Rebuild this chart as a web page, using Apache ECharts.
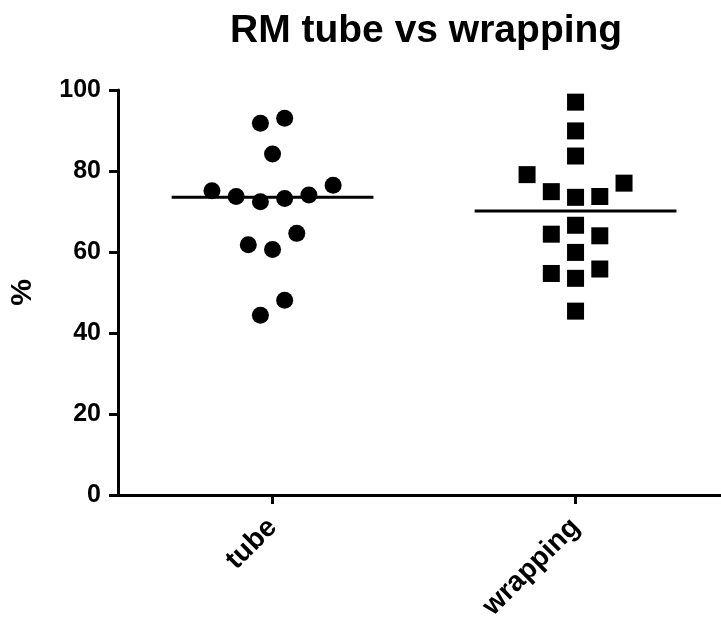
<!DOCTYPE html>
<html>
  <head>
    <meta charset="utf-8" />
    <title>RM tube vs wrapping</title>
    <script src="https://cdn.jsdelivr.net/npm/echarts@6/dist/echarts.min.js"></script>
    <style>
      html, body { margin: 0; padding: 0; background: #fff; }
    </style>
  </head>
  <body>
    <div id="main" style="width: 721px;height: 620px;"></div>
    <script type="text/javascript">
      // groups on the x axis (tube = 1, wrapping = 2)
      var categories = ['tube', 'wrapping']
      var yTicks = [0, 20, 40, 60, 80, 100]

      // tube values (%) and their horizontal scatter around x = 1
      var tubeValues = [91.8, 93.0, 84.2, 75.1, 73.7, 72.4, 73.2, 74.1, 76.5, 64.6, 61.8, 60.6, 48.1, 44.4]
      var tubeJitter = [-0.04, 0.04, 0, -0.2, -0.12, -0.04, 0.04, 0.12, 0.2, 0.08, -0.08, 0, 0.04, -0.04]

      // wrapping values (%) and their horizontal scatter around x = 2
      var wrappingValues = [97.0, 89.9, 83.7, 79.1, 74.9, 73.5, 73.7, 77.0, 66.6, 64.4, 64.0, 59.9, 54.7, 55.8, 53.5, 45.4]
      var wrappingJitter = [0, 0, 0, -0.16, -0.08, 0, 0.08, 0.16, 0, -0.08, 0.08, 0, -0.08, 0.08, 0, 0]

      // horizontal lines (median) per group
      var medians = [73.5, 70.1]

      var font = 'Liberation Sans, Arial, sans-serif'
      var halfWidth = 0.333

      function points(values, jitter, center) {
        var out = []
        for (var i = 0; i < values.length; i++) {
          out.push([center + jitter[i], values[i]])
        }
        return out
      }

      function medianLine(idx) {
        var c = idx + 1
        return {
          type: 'line',
          data: [[c - halfWidth, medians[idx]], [c + halfWidth, medians[idx]]],
          symbol: 'none',
          lineStyle: { color: '#000', width: 3 },
          z: 1,
          silent: true
        }
      }

      var myChart = echarts.init(document.getElementById('main'))
      var option = {
        animation: false,
        title: {
          text: 'RM tube vs wrapping',
          left: 225,
          top: 7,
          textStyle: { fontFamily: font, fontWeight: 'bold', fontSize: 39, color: '#000' }
        },
        grid: { left: 118, right: 0, top: 90, bottom: 125, containLabel: false, outerBoundsMode: 'none' },
        xAxis: {
          type: 'value',
          min: 0.49,
          max: 2.48,
          splitLine: { show: false },
          axisLine: { lineStyle: { color: '#000', width: 3 } },
          axisTick: { show: true, customValues: [1, 2], length: 9, lineStyle: { color: '#000', width: 3 } },
          axisLabel: {
            customValues: [1, 2],
            formatter: function (v) { return categories[Math.round(v) - 1] },
            rotate: 45,
            margin: 28,
            color: '#000',
            fontFamily: font,
            fontWeight: 'bold',
            fontSize: 28
          }
        },
        yAxis: {
          type: 'value',
          min: 0,
          max: 100,
          interval: 20,
          name: '%',
          nameLocation: 'middle',
          nameGap: 80,
          nameTextStyle: { color: '#000', fontFamily: font, fontWeight: 'bold', fontSize: 30 },
          splitLine: { show: false },
          axisLine: { show: true, lineStyle: { color: '#000', width: 3 } },
          axisTick: { show: true, length: 9, lineStyle: { color: '#000', width: 3 } },
          axisLabel: {
            margin: 17,
            color: '#000',
            fontFamily: font,
            fontWeight: 'bold',
            fontSize: 25,
            formatter: function (v) { return yTicks.indexOf(v) >= 0 ? String(v) : '' }
          }
        },
        series: [
          {
            type: 'scatter',
            data: points(tubeValues, tubeJitter, 1),
            symbol: 'circle',
            symbolSize: 17,
            itemStyle: { color: '#000', opacity: 1 },
            z: 2
          },
          {
            type: 'scatter',
            data: points(wrappingValues, wrappingJitter, 2),
            symbol: 'rect',
            symbolSize: 17,
            itemStyle: { color: '#000', opacity: 1 },
            z: 2
          },
          medianLine(0),
          medianLine(1)
        ]
      }
      myChart.setOption(option)
    </script>
  </body>
</html>
